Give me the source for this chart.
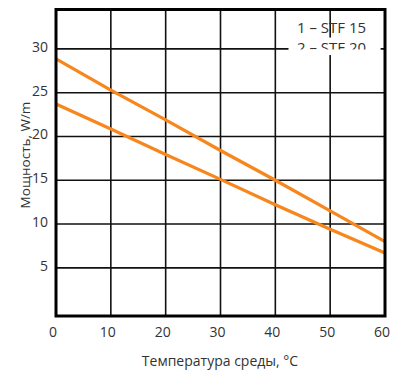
<!DOCTYPE html>
<html>
<head>
<meta charset="utf-8">
<script src="https://cdn.jsdelivr.net/npm/d3@7"></script>
<style>
  body { margin: 0; background: #fff; }
  text { font-family: "Open Sans", sans-serif; fill: #333; }
</style>
</head>
<body>
<script>
const temps = [0, 10, 20, 30, 40, 50, 60];
const upperLine = [28.85, 25.3, 21.9, 18.4, 15.0, 11.5, 8.0];
const lowerLine = [23.7, 20.85, 17.95, 15.1, 12.2, 9.4, 6.7];
const xTicks = [0, 10, 20, 30, 40, 50, 60];
const yTicks = [5, 10, 15, 20, 25, 30];
const legendLabels = ["1 – STF 15", "2 – STF 20"];

const width = 400;
const height = 383;
const margin = { top: 9.5, right: 15, bottom: 67, left: 56 };
const orange = "#f7861c";

const svg = d3
  .select("body")
  .append("svg")
  .attr("width", width)
  .attr("height", height);

const xScale = d3
  .scaleLinear()
  .domain([0, 60])
  .range([margin.left, width - margin.right]);

const yScale = d3
  .scaleLinear()
  .domain([-0.5, 34.5])
  .range([height - margin.bottom, margin.top]);

// grid
svg
  .append("g")
  .selectAll("line")
  .data(xTicks.slice(1, -1))
  .enter()
  .append("line")
  .attr("x1", (d) => xScale(d))
  .attr("x2", (d) => xScale(d))
  .attr("y1", yScale.range()[1])
  .attr("y2", yScale.range()[0])
  .attr("stroke", "#111")
  .attr("stroke-width", 1.6);

svg
  .append("g")
  .selectAll("line")
  .data(yTicks)
  .enter()
  .append("line")
  .attr("x1", xScale(0))
  .attr("x2", xScale(60))
  .attr("y1", (d) => yScale(d))
  .attr("y2", (d) => yScale(d))
  .attr("stroke", "#111")
  .attr("stroke-width", 1.6);

// legend box covering grid
const lx = xScale(42.4);
const ly = yScale(31.3);
svg
  .append("rect")
  .attr("x", lx)
  .attr("y", ly)
  .attr("width", xScale(59.2) - lx)
  .attr("height", yScale(29.3) - ly)
  .attr("fill", "#fff");

// second legend line is cut off at the 30 gridline, as in the source
svg
  .append("clipPath")
  .attr("id", "legclip")
  .append("rect")
  .attr("x", lx)
  .attr("y", margin.top)
  .attr("width", xScale(59.2) - lx)
  .attr("height", yScale(30) + 0.5 - margin.top);

svg
  .append("g")
  .attr("clip-path", "url(#legclip)")
  .selectAll("text")
  .data(legendLabels)
  .enter()
  .append("text")
  .attr("x", 297)
  .attr("y", (d, i) => 33 + i * 20)
  .attr("font-size", 15)
  .text((d) => d);

// curves
const line = d3
  .line()
  .x((d, i) => xScale(temps[i]))
  .y((d) => yScale(d));

[upperLine, lowerLine].forEach((series) => {
  svg
    .append("path")
    .datum(series)
    .attr("d", line)
    .attr("fill", "none")
    .attr("stroke", orange)
    .attr("stroke-width", 3.2);
});

// frame
svg
  .append("rect")
  .attr("x", xScale(0))
  .attr("y", yScale.range()[1])
  .attr("width", xScale(60) - xScale(0))
  .attr("height", yScale.range()[0] - yScale.range()[1])
  .attr("fill", "none")
  .attr("stroke", "#000")
  .attr("stroke-width", 3);

// tick labels
svg
  .append("g")
  .selectAll("text")
  .data(xTicks)
  .enter()
  .append("text")
  .attr("x", (d) => xScale(d) - 3)
  .attr("y", 337)
  .attr("text-anchor", "middle")
  .attr("font-size", 14)
  .text((d) => d);

svg
  .append("g")
  .selectAll("text")
  .data(yTicks)
  .enter()
  .append("text")
  .attr("x", 48)
  .attr("y", (d) => yScale(d) - 2)
  .attr("dy", "0.35em")
  .attr("text-anchor", "end")
  .attr("font-size", 14)
  .text((d) => d);

// axis titles
svg
  .append("text")
  .attr("x", 220)
  .attr("y", 366)
  .attr("text-anchor", "middle")
  .attr("font-size", 14)
  .text("Температура среды, °C");

svg
  .append("text")
  .attr("transform", "translate(30, 155) rotate(-90)")
  .attr("text-anchor", "middle")
  .attr("font-size", 13.5)
  .text("Мощность, W/m");
</script>
</body>
</html>
